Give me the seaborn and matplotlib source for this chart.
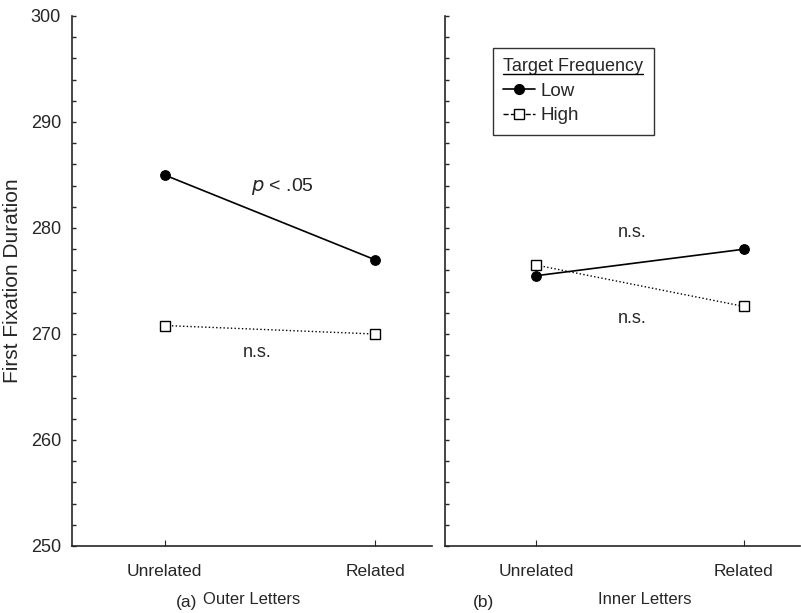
import numpy as np
import pandas as pd
import matplotlib
matplotlib.use("Agg")
import matplotlib.pyplot as plt
import seaborn as sns
from matplotlib.lines import Line2D
from matplotlib.ticker import MultipleLocator

# data
conditions = ["Unrelated", "Related"]
outer_low = [285.0, 277.0]
outer_high = [270.8, 270.0]
inner_low = [275.5, 278.0]
inner_high = [276.5, 272.6]

rows = []
for panel, low, high in [("outer", outer_low, outer_high), ("inner", inner_low, inner_high)]:
    for i, c in enumerate(conditions):
        rows.append(dict(panel=panel, pos=i, cond=c, freq="Low", ffd=low[i]))
        rows.append(dict(panel=panel, pos=i, cond=c, freq="High", ffd=high[i]))
df = pd.DataFrame(rows)

sns.set_style("ticks")
plt.rcParams["font.family"] = ["Liberation Sans", "DejaVu Sans"]

fig = plt.figure(figsize=(8.01, 6.13), dpi=100, facecolor="white")
ax_a = fig.add_axes([72 / 801, 67 / 613, 360 / 801, 530 / 613])
ax_b = fig.add_axes([445 / 801, 67 / 613, 355 / 801, 530 / 613])

styles = {"Low": dict(ls="-", lw=1.2, marker="o", mfc="black", mec="black", ms=7),
          "High": dict(ls=":", lw=1.0, marker="s", mfc="white", mec="black", ms=7, mew=1.0)}

for ax, panel in [(ax_a, "outer"), (ax_b, "inner")]:
    sub = df[df["panel"] == panel]
    for freq in ["High", "Low"]:
        d = sub[sub["freq"] == freq]
        sns.lineplot(data=d, x="pos", y="ffd", color="black", ax=ax, legend=False,
                     **styles[freq])
    ax.set_ylim(250, 300)
    ax.set_xlim(-0.44, 1.27)
    ax.set_xticks([0, 1])
    ax.set_xticklabels(conditions, fontsize=12.5)
    ax.set_xlabel("")
    ax.set_ylabel("")
    ax.yaxis.set_major_locator(MultipleLocator(10))
    ax.yaxis.set_minor_locator(MultipleLocator(2))
    ax.tick_params(axis="y", which="both", direction="in", length=3, width=1.0)
    ax.tick_params(axis="x", direction="in", length=4, pad=13)
    for s in ["top", "right"]:
        ax.spines[s].set_visible(False)
    for s in ["left", "bottom"]:
        ax.spines[s].set_linewidth(1.2)

ax_a.tick_params(axis="y", which="major", labelsize=13, pad=8)
ax_a.set_ylabel("First Fixation Duration", fontsize=15, labelpad=6)
ax_b.tick_params(axis="y", which="both", labelleft=False)

# annotations
ax_a.text(0.56, 283.9, r"$p$ < .05", fontsize=14, ha="center", va="center")
ax_a.text(0.44, 268.3, "n.s.", fontsize=13, ha="center", va="center")
ax_b.text(0.46, 279.6, "n.s.", fontsize=13, ha="center", va="center")
ax_b.text(0.46, 271.5, "n.s.", fontsize=13, ha="center", va="center")

fig.text(187 / 801, 1 - 602 / 613, "(a)", fontsize=12.5, ha="center", va="center")
fig.text(252 / 801, 1 - 599 / 613, "Outer Letters", fontsize=12, ha="center", va="center")
fig.text(483 / 801, 1 - 602 / 613, "(b)", fontsize=12.5, ha="center", va="center")
fig.text(645 / 801, 1 - 599 / 613, "Inner Letters", fontsize=12, ha="center", va="center")

handles = [Line2D([], [], color="black", label="Low", **styles["Low"]),
           Line2D([], [], color="black", label="High", **{**styles["High"], "ls": "--"})]
leg = ax_b.legend(handles=handles, title="Target Frequency", loc="upper left",
                  bbox_to_anchor=(0.135, 0.94), fontsize=13.5, title_fontsize=13,
                  frameon=True, fancybox=False, edgecolor="black", handlelength=1.7,
                  handletextpad=0.3, labelspacing=0.4, borderpad=0.55, borderaxespad=0)
leg.get_frame().set_linewidth(1.0)
leg._legend_box.align = "left"

fig.canvas.draw()
bb = leg.get_title().get_window_extent().transformed(fig.transFigure.inverted())
fig.add_artist(Line2D([bb.x0, bb.x1], [bb.y0 + 0.001, bb.y0 + 0.001], color="black", lw=1.0,
                      transform=fig.transFigure))

fig.savefig("out.png", dpi=100, facecolor="white")
